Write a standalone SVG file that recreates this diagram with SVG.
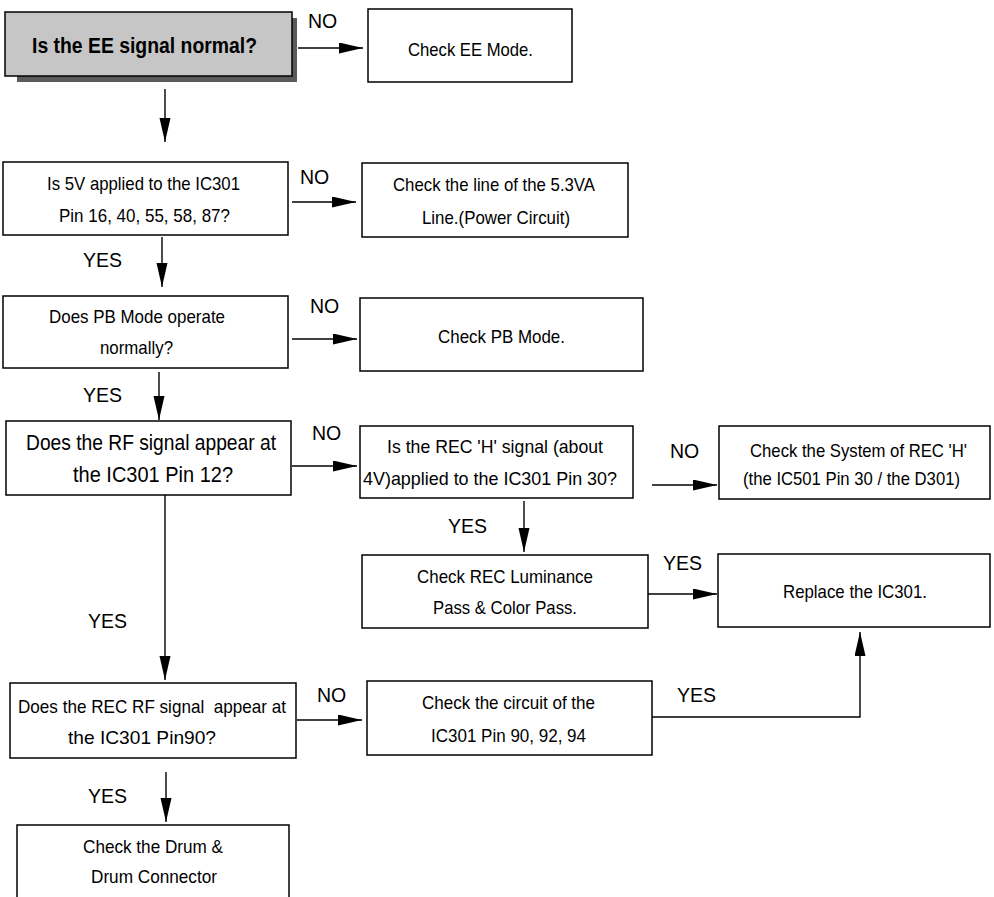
<svg xmlns="http://www.w3.org/2000/svg" width="994" height="897" viewBox="0 0 994 897">
  <defs>
    <marker id="arrow" markerUnits="userSpaceOnUse" markerWidth="26" markerHeight="12" refX="24" refY="5.5" orient="auto">
      <path d="M0,0 L24,5.5 L0,11 Z" fill="#000"/>
    </marker>
    <style>
      .box { fill: #fff; stroke: #000; stroke-width: 1.5; }
      .start { fill: #c6c6c6; stroke: #000; stroke-width: 1.5; }
      .shadow { fill: #5a5a5a; stroke: none; }
      .t { font-family: "Liberation Sans", Arial, sans-serif; font-size: 18.5px; fill: #000; }
      .big { font-size: 22px; }
      .bold { font-weight: bold; }
      .lbl { font-family: "Liberation Sans", Arial, sans-serif; font-size: 19.5px; fill: #000; }
      .wire { fill: none; stroke: #000; stroke-width: 1.4; }
      .arr { marker-end: url(#arrow); }
    </style>
  </defs>

  <rect width="994" height="897" fill="#fff"/>

  <!-- Nodes -->
  <g id="ee-signal">
    <rect class="shadow" x="17" y="18" width="280" height="64"/>
    <rect class="start" x="5" y="12" width="287" height="64"/>
    <text class="t bold big" x="32" y="53" textLength="225" lengthAdjust="spacingAndGlyphs">Is the EE signal normal?</text>
  </g>

  <g id="check-ee-mode">
    <rect class="box" x="368" y="9" width="204" height="73"/>
    <text class="t" x="408" y="56" textLength="125" lengthAdjust="spacingAndGlyphs">Check EE Mode.</text>
  </g>

  <g id="q-5v">
    <rect class="box" x="3" y="162" width="285" height="73"/>
    <text class="t" x="47" y="190" textLength="193" lengthAdjust="spacingAndGlyphs">Is 5V applied to the IC301</text>
    <text class="t" x="59" y="222" textLength="171" lengthAdjust="spacingAndGlyphs">Pin 16, 40, 55, 58, 87?</text>
  </g>

  <g id="check-5v-line">
    <rect class="box" x="362" y="163" width="266" height="74"/>
    <text class="t" x="393" y="191" textLength="202" lengthAdjust="spacingAndGlyphs">Check the line of the 5.3VA</text>
    <text class="t" x="422" y="224" textLength="148" lengthAdjust="spacingAndGlyphs">Line.(Power Circuit)</text>
  </g>

  <g id="q-pb-mode">
    <rect class="box" x="3" y="296" width="285" height="72"/>
    <text class="t" x="49" y="323" textLength="176" lengthAdjust="spacingAndGlyphs">Does PB Mode operate</text>
    <text class="t" x="100" y="354" textLength="73" lengthAdjust="spacingAndGlyphs">normally?</text>
  </g>

  <g id="check-pb-mode">
    <rect class="box" x="360" y="298" width="283" height="73"/>
    <text class="t" x="438" y="343" textLength="127" lengthAdjust="spacingAndGlyphs">Check PB Mode.</text>
  </g>

  <g id="q-rf-signal">
    <rect class="box" x="6" y="421" width="285" height="74"/>
    <text class="t big" x="26" y="450" textLength="250" lengthAdjust="spacingAndGlyphs">Does the RF signal appear at</text>
    <text class="t big" x="73" y="482" textLength="160" lengthAdjust="spacingAndGlyphs">the IC301 Pin 12?</text>
  </g>

  <g id="q-rec-h">
    <rect class="box" x="360" y="426" width="273" height="72"/>
    <text class="t" x="387" y="453" textLength="216" lengthAdjust="spacingAndGlyphs">Is the REC 'H' signal (about</text>
    <text class="t" x="363" y="485" textLength="254" lengthAdjust="spacingAndGlyphs">4V)applied to the IC301 Pin 30?</text>
  </g>

  <g id="check-rec-h-system">
    <rect class="box" x="719" y="426" width="271" height="73"/>
    <text class="t" x="750" y="457" textLength="217" lengthAdjust="spacingAndGlyphs">Check the System of REC 'H'</text>
    <text class="t" x="743" y="485" textLength="217" lengthAdjust="spacingAndGlyphs">(the IC501 Pin 30 / the D301)</text>
  </g>

  <g id="check-rec-luminance">
    <rect class="box" x="362" y="555" width="286" height="73"/>
    <text class="t" x="417" y="583" textLength="176" lengthAdjust="spacingAndGlyphs">Check REC Luminance</text>
    <text class="t" x="433" y="614" textLength="144" lengthAdjust="spacingAndGlyphs">Pass &amp; Color Pass.</text>
  </g>

  <g id="replace-ic301">
    <rect class="box" x="718" y="554" width="272" height="73"/>
    <text class="t" x="783" y="598" textLength="144" lengthAdjust="spacingAndGlyphs">Replace the IC301.</text>
  </g>

  <g id="q-rec-rf">
    <rect class="box" x="10" y="683" width="286" height="75"/>
    <text class="t" x="18" y="713" textLength="268" lengthAdjust="spacingAndGlyphs" xml:space="preserve">Does the REC RF signal  appear at</text>
    <text class="t" x="68" y="744" textLength="148" lengthAdjust="spacingAndGlyphs">the IC301 Pin90?</text>
  </g>

  <g id="check-pin-circuit">
    <rect class="box" x="367" y="681" width="285" height="74"/>
    <text class="t" x="422" y="709" textLength="173" lengthAdjust="spacingAndGlyphs">Check the circuit of the</text>
    <text class="t" x="431" y="742" textLength="155" lengthAdjust="spacingAndGlyphs">IC301 Pin 90, 92, 94</text>
  </g>

  <g id="check-drum">
    <rect class="box" x="17" y="825" width="272" height="90"/>
    <text class="t" x="83" y="853" textLength="140" lengthAdjust="spacingAndGlyphs">Check the Drum &amp;</text>
    <text class="t" x="91" y="883" textLength="126" lengthAdjust="spacingAndGlyphs">Drum Connector</text>
  </g>

  <!-- Connectors -->
  <g id="connectors">
    <line class="wire arr" x1="298" y1="48" x2="363" y2="48"/>
    <line class="wire arr" x1="165" y1="89" x2="165" y2="142"/>
    <line class="wire arr" x1="292" y1="202" x2="356" y2="202"/>
    <line class="wire arr" x1="162" y1="237" x2="162" y2="287"/>
    <line class="wire arr" x1="292" y1="339" x2="357" y2="339"/>
    <line class="wire arr" x1="159" y1="372" x2="159" y2="420"/>
    <line class="wire arr" x1="292" y1="466" x2="357" y2="466"/>
    <line class="wire arr" x1="165" y1="495" x2="165" y2="680"/>
    <line class="wire arr" x1="652" y1="485" x2="717" y2="485"/>
    <line class="wire arr" x1="524" y1="501" x2="524" y2="552"/>
    <line class="wire arr" x1="648" y1="594" x2="717" y2="594"/>
    <line class="wire arr" x1="297" y1="720" x2="362" y2="720"/>
    <polyline class="wire arr" points="652,717 860,717 860,632"/>
    <line class="wire arr" x1="166" y1="772" x2="166" y2="822"/>

    <text class="lbl" x="308" y="28">NO</text>
    <text class="lbl" x="300" y="184">NO</text>
    <text class="lbl" x="83" y="267">YES</text>
    <text class="lbl" x="310" y="313">NO</text>
    <text class="lbl" x="83" y="402">YES</text>
    <text class="lbl" x="312" y="440">NO</text>
    <text class="lbl" x="88" y="628">YES</text>
    <text class="lbl" x="670" y="458">NO</text>
    <text class="lbl" x="448" y="533">YES</text>
    <text class="lbl" x="663" y="570">YES</text>
    <text class="lbl" x="317" y="702">NO</text>
    <text class="lbl" x="677" y="702">YES</text>
    <text class="lbl" x="88" y="803">YES</text>
  </g>
</svg>
